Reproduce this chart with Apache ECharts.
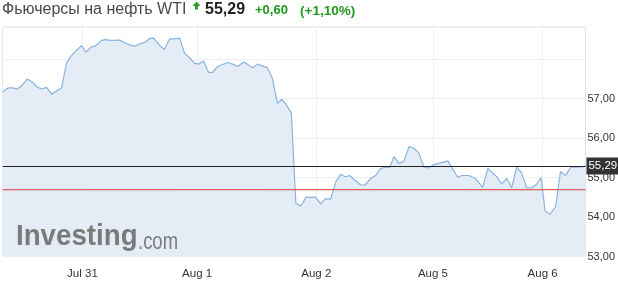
<!DOCTYPE html>
<html><head><meta charset="utf-8">
<script src="https://cdn.jsdelivr.net/npm/echarts@6/dist/echarts.min.js"></script>
<style>html,body{margin:0;padding:0;background:#fff}#c{width:618px;height:282px}</style>
</head><body><div id="c"></div>
<script>
// trading-hour index (hours from start of window)
var hours = [0,1.1,2.1,2.9,3.8,4.9,5.8,6.9,7.8,8.8,9.8,10.8,11.8,12.8,13.6,14.5,15.8,16.7,17.6,18.7,19.8,20.7,21.5,22.5,23.5,24.7,25.6,26.5,27.3,28.5,29.5,30.3,31.5,32.4,33.5,34.5,35.5,36.5,37.5,38.5,39.3,40.3,41.3,42.1,43.1,45.1,46.1,47.1,48.3,49.1,50.1,51.1,52.1,53.1,54.1,55.1,56.0,56.9,57.9,58.8,59.8,60.9,61.8,62.7,63.8,64.7,65.8,66.8,67.8,68.7,69.6,71.8,72.7,73.8,74.8,75.8,76.8,77.6,78.5,79.5,80.5,81.5,82.5,83.5,84.5,85.5,86.3,89.3,91.3,92.1,93.5,94.8,96.3,97.3,99.1,100.1,101.1,102.1,103.1,104.1,105.1,106.1,107.1,108.0,108.8,109.8,110.9,111.9,112.9,114.0,114.9,116.1,116.9];
var prices = [57.17,57.27,57.27,57.24,57.32,57.49,57.43,57.29,57.24,57.28,57.11,57.19,57.27,57.89,58.06,58.18,58.34,58.17,58.29,58.34,58.47,58.49,58.47,58.47,58.48,58.40,58.35,58.32,58.38,58.42,58.52,58.53,58.34,58.24,58.51,58.51,58.53,58.14,58.03,57.89,57.87,57.95,57.66,57.66,57.81,57.91,57.87,57.81,57.92,57.87,57.78,57.87,57.82,57.78,57.51,56.88,56.98,56.84,56.63,54.35,54.28,54.51,54.49,54.51,54.33,54.46,54.46,54.89,55.08,55.02,55.05,54.81,54.81,54.98,55.05,55.23,55.26,55.25,55.53,55.35,55.42,55.78,55.74,55.61,55.26,55.24,55.32,55.42,55.00,55.05,55.05,54.98,54.75,55.23,55.02,54.83,54.98,54.74,55.26,55.11,54.74,54.74,54.83,55.00,54.15,54.07,54.26,55.15,55.05,55.27,55.26,55.27,55.29];
var dayTicks = [16, 39, 62.9, 86.3, 108.3];
var dayLabels = ['Jul 31', 'Aug 1', 'Aug 2', 'Aug 5', 'Aug 6'];
var yTickValues = [53, 54, 55, 56, 57];
var yTickLabels = ['53,00', '54,00', '55,00', '56,00', '57,00'];
var lastPrice = 55.29, prevClose = 54.69;
var titleText = 'Фьючерсы на нефть WTI', lastText = '55,29', changeText = '+0,60', pctText = '(+1,10%)';

var xMin = 0, xMax = 116.9;
var series = hours.map(function (h, i) { return [h, prices[i]]; });
var chart = echarts.init(document.getElementById('c'), null, {renderer: 'canvas'});
chart.setOption({
  animation: false,
  grid: {left: 2.7, right: 30.7, top: 27, bottom: 25.5, show: true, borderColor: '#e2e2ea', borderWidth: 1, backgroundColor: '#fff'},
  xAxis: {
    type: 'value', min: xMin, max: xMax,
    axisLine: {show: false},
    axisTick: {show: false, customValues: dayTicks},
    splitLine: {show: true, lineStyle: {color: '#eeeff3', width: 1}},
    axisLabel: {customValues: dayTicks, color: '#333', fontSize: 11.5, fontFamily: 'Liberation Sans, Arial', margin: 11,
      formatter: function (v) { var i = dayTicks.indexOf(v); return i >= 0 ? dayLabels[i] : ''; }}
  },
  yAxis: {
    type: 'value', position: 'right', min: 53, max: 58.81, interval: 1,
    axisLine: {show: false}, axisTick: {show: false},
    splitLine: {show: true, lineStyle: {color: '#eeeff3', width: 1}},
    axisLabel: {color: '#333', fontSize: 11, fontFamily: 'Liberation Sans, Arial', margin: 2, showMaxLabel: false,
      formatter: function (v) { var i = yTickValues.indexOf(v); return i >= 0 ? yTickLabels[i] : ''; }}
  },
  graphic: [
    {type: 'text', left: 2, top: 2, style: {text: titleText, font: '16px "Liberation Sans", Arial', fill: '#4a4a4a'}},
    {type: 'polygon', shape: {points: [[192.5, 6], [196.5, 1.5], [200.5, 6], [198, 6], [198, 9.5], [195, 9.5], [195, 6]]}, style: {fill: '#2d9c2d'}},
    {type: 'text', left: 205, top: 2, style: {text: lastText, font: 'bold 16px "Liberation Sans", Arial', fill: '#222'}},
    {type: 'text', left: 255, top: 4, style: {text: changeText, font: 'bold 13px "Liberation Sans", Arial', fill: '#1f9a1f'}},
    {type: 'text', left: 300, top: 4, style: {text: pctText, font: 'bold 13.5px "Liberation Sans", Arial', fill: '#1f9a1f'}},
    {type: 'text', x: 16, y: 222, scaleX: 0.955, z: 100, style: {text: 'Investing', font: 'bold 29px "Liberation Sans", Arial', fill: '#7b7b7b'}},
    {type: 'text', x: 138, y: 230, scaleX: 0.77, z: 100, style: {text: '.com', font: '24px "Liberation Sans", Arial', fill: '#7b7b7b'}}
  ],
  series: [{
    type: 'line', data: series, symbol: 'none', smooth: false,
    lineStyle: {color: '#8ab4e0', width: 1.2},
    areaStyle: {color: '#e4ecf5', opacity: 1},
    markLine: {
      symbol: 'none', silent: true, animation: false,
      lineStyle: {color: '#222', width: 1, type: 'solid'},
      label: {show: true, position: 'end', distance: 1, formatter: lastText, color: '#fff', backgroundColor: '#333', padding: [3, 2, 2, 2], fontSize: 11.5, fontFamily: 'Liberation Sans, Arial'},
      data: [{yAxis: lastPrice}]
    }
  }, {
    type: 'line', data: [[xMin, prevClose], [xMax, prevClose]], symbol: 'none', silent: true, z: 5,
    lineStyle: {color: '#e03a3a', width: 1}
  }]
});
</script></body></html>
